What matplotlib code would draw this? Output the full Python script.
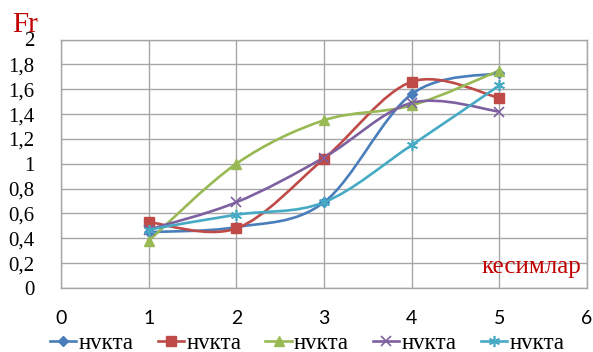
import matplotlib
matplotlib.use("Agg")
import matplotlib.pyplot as plt
from matplotlib.path import Path
from matplotlib.patches import PathPatch
from matplotlib.lines import Line2D

# Section numbers along the x axis
x_vals = [1, 2, 3, 4, 5]

# Fr values for each point series
blue_vals = [0.45, 0.49, 0.69, 1.56, 1.73]
red_vals = [0.53, 0.48, 1.04, 1.66, 1.53]
green_vals = [0.38, 1.00, 1.35, 1.47, 1.75]
purple_vals = [0.47, 0.69, 1.05, 1.49, 1.42]
cyan_vals = [0.47, 0.59, 0.69, 1.15, 1.63]

series_names = ["нvкта", "нvкта", "нvкта", "нvкта", "нvкта"]
y_tick_vals = [0, 0.2, 0.4, 0.6, 0.8, 1.0, 1.2, 1.4, 1.6, 1.8, 2.0]
x_tick_vals = [0, 1, 2, 3, 4, 5, 6]

colors = ["#4A7EBB", "#BE4B48", "#98B954", "#7D60A0", "#46AAC5"]
markers = ["D", "s", "^", "x", (6, 2, 0)]
msizes = [5, 7, 7, 7, 8]

SERIF = "Liberation Serif"


def smooth_path(xs, ys):
    """Cubic Bezier path through the points (Catmull-Rom style tangents)."""
    pts = list(zip(xs, ys))
    n = len(pts)
    verts = [pts[0]]
    codes = [Path.MOVETO]
    for i in range(n - 1):
        p0 = pts[i - 1] if i > 0 else pts[i]
        p1 = pts[i]
        p2 = pts[i + 1]
        p3 = pts[i + 2] if i + 2 < n else pts[i + 1]
        c1 = (p1[0] + (p2[0] - p0[0]) / 6, p1[1] + (p2[1] - p0[1]) / 6)
        c2 = (p2[0] - (p3[0] - p1[0]) / 6, p2[1] - (p3[1] - p1[1]) / 6)
        verts += [c1, c2, p2]
        codes += [Path.CURVE4] * 3
    return Path(verts, codes)


fig = plt.figure(figsize=(5.93, 3.52), dpi=100)
ax = fig.add_axes([61 / 593, 1 - 288 / 352, (587 - 61) / 593, (288 - 39.5) / 352])

ax.set_xlim(0, 6)
ax.set_ylim(0, 2)
ax.set_xticks(x_tick_vals)
ax.set_yticks(y_tick_vals)
ax.set_xticklabels([str(v) for v in x_tick_vals], fontfamily="Lato", fontsize=14)
ax.set_yticklabels([("%g" % v).replace(".", ",") for v in y_tick_vals],
                   fontfamily=SERIF, fontsize=15)
ax.tick_params(axis="both", length=0)
ax.tick_params(axis="y", pad=19)
ax.tick_params(axis="x", pad=16)

ax.grid(True, color="#A6A6A6", linewidth=1.0)
ax.set_axisbelow(True)
for sp in ax.spines.values():
    sp.set_color("#A6A6A6")
    sp.set_linewidth(1.0)

all_vals = [blue_vals, red_vals, green_vals, purple_vals, cyan_vals]
handles = []
for vals, c, m, ms, name in zip(all_vals, colors, markers, msizes, series_names):
    patch = PathPatch(smooth_path(x_vals, vals), facecolor="none", edgecolor=c,
                      linewidth=1.9, zorder=3)
    ax.add_patch(patch)
    mew = 1.2 if m in ("x", (6, 2, 0)) else 1.0
    ax.plot(x_vals, vals, linestyle="none", marker=m, markersize=ms, color=c,
            markeredgewidth=mew, zorder=4)
    handles.append(Line2D([], [], color=c, linewidth=1.9, marker=m, markersize=ms,
                          markeredgewidth=mew, label=name))

fig.legend(handles=handles, loc="center left", bbox_to_anchor=(50 / 593, 1 - 343 / 352),
           ncol=5, frameon=False, prop={"family": SERIF, "size": 16.5},
           handlelength=1.15, handletextpad=0.1, columnspacing=1.05,
           borderaxespad=0, borderpad=0)

fig.text(12 / 593, 1 - 32 / 352, "Fr", color="#C00000", fontfamily=SERIF,
         fontsize=21, ha="left", va="baseline")
ax.text(5.93, 0.12, "кесимлар", color="#C00000", fontfamily=SERIF,
        fontsize=18, ha="right", va="baseline")

fig.savefig("out.png", dpi=100)
